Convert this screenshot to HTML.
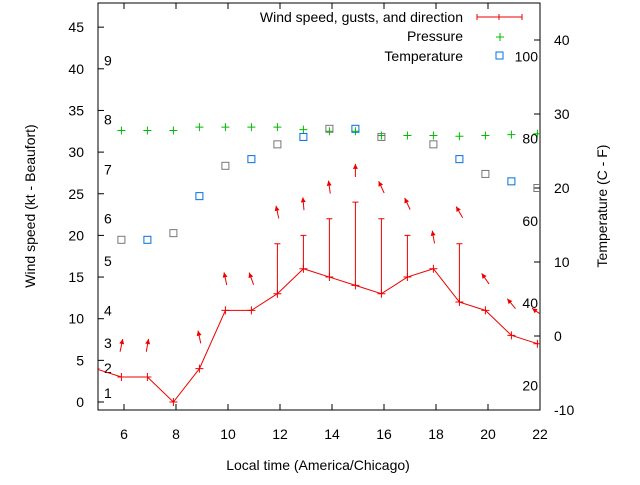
<!DOCTYPE html>
<html><head><meta charset="utf-8"><style>
body{margin:0;background:#fff;}
svg text{font-family:"Liberation Sans",sans-serif;font-size:14px;fill:#000;}
</style></head><body>
<svg id="chart" width="640" height="480" viewBox="0 0 640 480">
<defs><clipPath id="pc"><rect x="98" y="3" width="442" height="407"/></clipPath></defs>
<rect x="98" y="3" width="442" height="407" fill="none" stroke="#000"/>
<g id="axes"></g>
<g id="series" clip-path="url(#pc)"></g>
<text x="35" y="206" text-anchor="middle" transform="rotate(-90 35 206)">Wind speed (kt - Beaufort)</text>
<text x="607" y="206" text-anchor="middle" transform="rotate(-90 607 206)">Temperature (C - F)</text>
<text x="318" y="470" text-anchor="middle">Local time (America/Chicago)</text>
<g>
<text x="463" y="22" text-anchor="end">Wind speed, gusts, and direction</text>
<path d="M477 17H522M477 14V20M499 14V20M522 14V20" stroke="#e00" fill="none"/>
<text x="463" y="41" text-anchor="end">Pressure</text>
<path d="M496 37H504M500 33V41" stroke="#0b0"/>
<text x="463" y="61" text-anchor="end">Temperature</text>
<rect x="496" y="52" width="7" height="7" fill="none" stroke="#0070e0"/>
</g>
</svg>
<script>
const hours=[4.9,5.9,6.9,7.9,8.9,9.9,10.9,11.9,12.9,13.9,14.9,15.9,16.9,17.9,18.9,19.9,20.9,21.9];
const wind=[4,3,3,0,4,11,11,13,16,15,14,13,15,16,12,11,8,7];
const gusts=[null,null,null,null,null,null,null,19,20,22,24,22,20,null,19,null,null,null];
const windDir=[0,12,10,null,-12,-12,-20,-12,-5,-8,0,-25,-25,-10,-30,-35,-40,-55];
const pressure=[null,32.6,32.6,32.6,33.0,33.0,33.0,33.0,32.7,32.5,32.5,32.0,32.0,32.0,31.9,32.0,32.1,32.2];
const tempC=[null,13,13,13.9,18.9,23,23.9,25.9,26.9,28,28,26.9,null,25.9,23.9,21.9,20.9,20];
const xTicks=[6,8,10,12,14,16,18,20,22];
const yTicks=[0,5,10,15,20,25,30,35,40,45];
const y2Ticks=[-10,0,10,20,30,40];
const beaufortLabels=["1","2","3","4","5","6","7","8","9"];
const beaufortPos=[1.1,4.1,7.1,11,16.9,22,27.9,33.9,41];
const fLabels=[20,40,60,80,100];

const NS="http://www.w3.org/2000/svg";
const X=v=>98+(v-5)*26;
const Y=v=>402-v*8.33;
const Y2=c=>336-c*7.4;
const ax=document.getElementById('axes'), se=document.getElementById('series');
function mk(tag,attrs,parent){const e=document.createElementNS(NS,tag);for(const k in attrs)e.setAttribute(k,attrs[k]);parent.appendChild(e);return e;}

xTicks.forEach(t=>{
  const tk=mk('path',{d:`M${X(t)} 410v-6M${X(t)} 3v6`,stroke:'#000'},ax);
  
  
  const l=mk('text',{x:X(t),y:439,'text-anchor':'middle'},ax);l.textContent=t;
  
  
});
yTicks.forEach(t=>{
  const tk=mk('path',{d:`M98 ${Y(t)}h6`,stroke:'#000'},ax);
  
  
  const l=mk('text',{x:84,y:Y(t)+5,'text-anchor':'end'},ax);l.textContent=t;
  
  
});
y2Ticks.forEach(t=>{
  const tk=mk('path',{d:`M540 ${Y2(t)}h-6`,stroke:'#000'},ax);
  
  
  const l=mk('text',{x:554,y:Y2(t)+5,'text-anchor':'start'},ax);l.textContent=t;
  
  
});
beaufortLabels.forEach((b,i)=>{
  const l=mk('text',{x:104,y:Y(beaufortPos[i])+5},ax);l.textContent=b;
  
  
});
fLabels.forEach(f=>{
  const c=(f-32)*5/9;
  const l=mk('text',{x:538,y:Y2(c)+5,'text-anchor':'end'},ax);l.textContent=f;
  
  
});

// wind line
const wl=mk('polyline',{points:hours.map((h,i)=>X(h)+','+Y(wind[i])).join(' '),fill:'none',stroke:'#e00'},se);


hours.forEach((h,i)=>{
  const x=X(h),y=Y(wind[i]);
  const p=mk('path',{d:`M${x-4} ${y}h8M${x} ${y-4}v8`,stroke:'#e00'},se);
  
  
  if(gusts[i]!=null){
    const g=mk('path',{d:`M${x} ${y}V${Y(gusts[i])}M${x-3} ${Y(gusts[i])}h6`,stroke:'#e00',fill:'none'},se);
    
    
  }
  if(windDir[i]!=null){
    const top=Math.max(wind[i],gusts[i]||0)+3.8;
    const cy=Y(top);
    const a=windDir[i]*Math.PI/180, L=13;
    const dx=Math.sin(a)*L/2, dy=Math.cos(a)*L/2;
    const hx=x+dx, hy=cy-dy;
    const ar=mk('g',{},se);
    
    
    mk('line',{x1:x-dx,y1:cy+dy,x2:hx,y2:hy,stroke:'#e00'},ar);
    const ux=Math.sin(a),uy=-Math.cos(a),px=-uy,py=ux;
    mk('polygon',{points:`${hx},${hy} ${hx-ux*5+px*2.5},${hy-uy*5+py*2.5} ${hx-ux*5-px*2.5},${hy-uy*5-py*2.5}`,fill:'#e00'},ar);
  }
  if(pressure[i]!=null){
    const py2=Y(pressure[i]);
    const pp=mk('path',{d:`M${x-4} ${py2}h8M${x} ${py2-4}v8`,stroke:'#0b0'},se);
    
    
  }
  if(tempC[i]!=null){
    const ty=Y2(tempC[i]);
    const r=mk('rect',{x:x-3.5,y:ty-3.5,width:7,height:7,fill:'none',stroke:(i%2?'#777':'#0070e0')},se);
    
    
  }
});
</script>
</body></html>
